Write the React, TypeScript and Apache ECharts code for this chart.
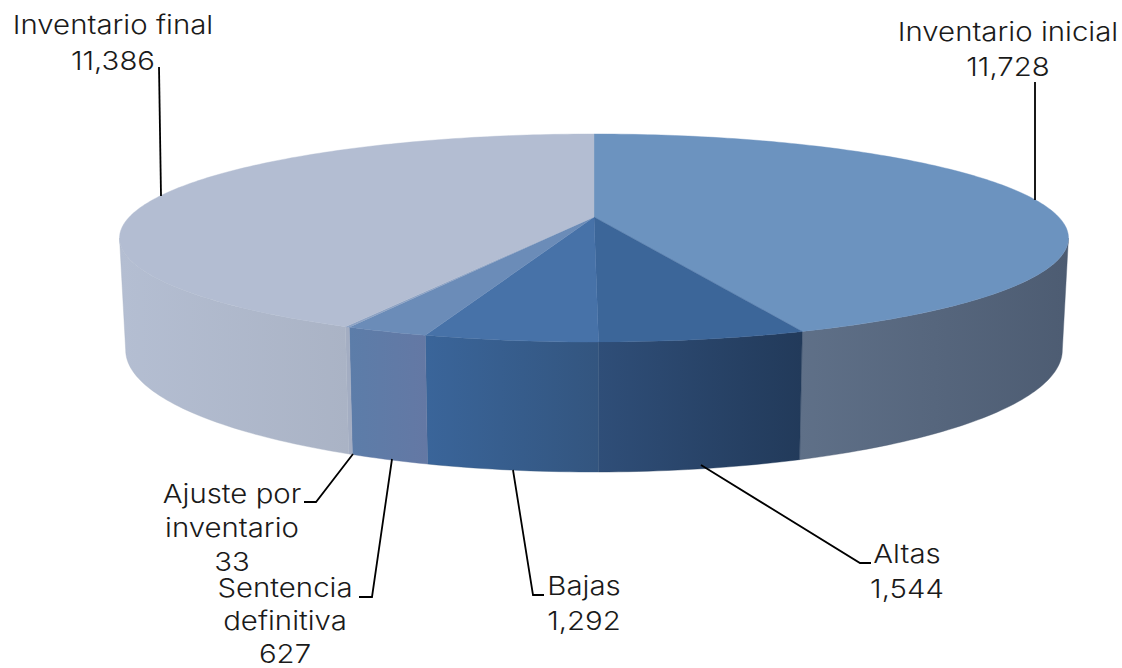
import React, { useEffect, useRef } from "react";
import * as echarts from "echarts";

// ---- data ----
const categories = [
  "Inventario inicial",
  "Altas",
  "Bajas",
  "Sentencia definitiva",
  "Ajuste por inventario",
  "Inventario final",
];
const values = [11728, 1544, 1292, 627, 33, 11386];

// ---- styles ----
const topColors = ["#6c93bf", "#3c6699", "#4772a8", "#6b8cb8", "#8ea3c4", "#b3bdd2"];
const sideStops = [
  ["#5f7088", "#4d5c72"],
  ["#2f4e78", "#223a5a"],
  ["#3a659a", "#33557f"],
  ["#5c7da9", "#6478a4"],
  ["#a3adc2", "#a3adc2"],
  ["#b4bed2", "#aab3c5"],
];
const labelLines = [
  ["Inventario inicial"],
  ["Altas"],
  ["Bajas"],
  ["Sentencia", "definitiva"],
  ["Ajuste por", "inventario"],
  ["Inventario final"],
];
const labelAnchors = [
  [1008, 32],
  [907, 554],
  [584, 586],
  [285, 587.5],
  [232, 493.5],
  [113, 25],
];
const labelGaps = [35, 35, 35, 33, 34.3, 36];
const leaderPaths = [
  [[1035, 82], [1035, 200]],
  [[701, 465], [860, 563], [871, 563]],
  [[513, 470], [533, 595], [544, 595]],
  [[392, 459], [372, 597], [359, 597]],
  [[353, 454], [316, 502], [304, 502]],
  [[159, 67], [161, 196]],
];

// ---- tilted-disc projection ----
const CX = 594;
const TOP_Y = 217;
const BOTTOM_Y = 325.4;
const A = 464.7;
const B = 99.8;
const BOTTOM_B = 117;
const P = 0.202;
const BOTTOM_SCALE = 0.987;
const VISIBLE_FROM = (Math.acos(-P) * 180) / Math.PI;
const VISIBLE_TO = 360 - VISIBLE_FROM;

const total = values.reduce((s, v) => s + v, 0);
const startAngles: number[] = [];
values.reduce((acc, v, i) => {
  startAngles[i] = (acc / total) * 360;
  return acc + v;
}, 0);

function project(deg: number, y0: number, s: number, b: number): number[] {
  const r = (deg * Math.PI) / 180;
  const u = Math.sin(r);
  const v = Math.cos(r);
  const w = 1 + P * v;
  return [CX + (s * A * u) / w, y0 - (b * v) / w];
}
function arc(from: number, to: number, y0: number, s: number, b: number): number[][] {
  const n = Math.max(2, Math.ceil((to - from) / 1) + 1);
  const pts: number[][] = [];
  for (let i = 0; i < n; i++) pts.push(project(from + ((to - from) * i) / (n - 1), y0, s, b));
  return pts;
}
function range(i: number): number[] {
  return [startAngles[i], startAngles[i] + (values[i] / total) * 360];
}

const sideItem = (_p: any, api: any) => {
  const i = api.value(1);
  const [a0, a1] = range(i);
  const from = Math.max(a0, VISIBLE_FROM);
  const to = Math.min(a1, VISIBLE_TO);
  if (to <= from) return { type: "group", children: [] };
  const pts = arc(from, to, TOP_Y, 1, B).concat(arc(from, to, BOTTOM_Y, BOTTOM_SCALE, BOTTOM_B).reverse());
  const fill = new echarts.graphic.LinearGradient(0, 0, 1, 0, [
    { offset: 0, color: sideStops[i][0] },
    { offset: 1, color: sideStops[i][1] },
  ]);
  return { type: "polygon", shape: { points: pts }, style: { fill, stroke: sideStops[i][1], lineWidth: 0.4 } };
};

const topItem = (_p: any, api: any) => {
  const i = api.value(1);
  const [a0, a1] = range(i);
  const pts = [[CX, TOP_Y]].concat(arc(a0, a1, TOP_Y, 1, B));
  return { type: "polygon", shape: { points: pts }, style: { fill: topColors[i], stroke: topColors[i], lineWidth: 0.4 } };
};

const leaderItem = (_p: any, api: any) => {
  const i = api.value(1);
  const lines = labelLines[i].concat(api.value(0).toLocaleString("en-US"));
  return {
    type: "group",
    children: [
      {
        type: "polyline",
        shape: { points: leaderPaths[i] },
        style: { fill: "none", stroke: "#000", lineWidth: 1.8 },
      },
      ...lines.map((text: string, k: number) => ({
        type: "text",
        x: labelAnchors[i][0],
        y: labelAnchors[i][1] + k * labelGaps[i],
        scaleX: 1.13,
        style: {
          text,
          align: "center",
          verticalAlign: "middle",
          fill: "#1a1a1a",
          fontFamily: "Inter",
          fontWeight: 300,
          fontSize: 26,
          lineHeight: 25,
        },
      })),
    ],
  };
};

export default function App() {
  const ref = useRef<HTMLDivElement>(null);
  useEffect(() => {
    const chart = echarts.init(ref.current!, undefined, { renderer: "svg" });
    const data = values.map((v, i) => [v, i]);
    chart.setOption({
      animation: false,
      backgroundColor: "#fff",
      series: [
        { type: "custom", coordinateSystem: "none", renderItem: sideItem, data, z: 1, silent: true },
        { type: "custom", coordinateSystem: "none", renderItem: topItem, data, z: 2, silent: true },
        { type: "custom", coordinateSystem: "none", renderItem: leaderItem, data, z: 3, silent: true, name: categories.join(", ") },
      ],
    });
    return () => chart.dispose();
  }, []);
  return <div ref={ref} style={{ position: "absolute", left: 0, top: 0, width: 1122, height: 668 }} />;
}
